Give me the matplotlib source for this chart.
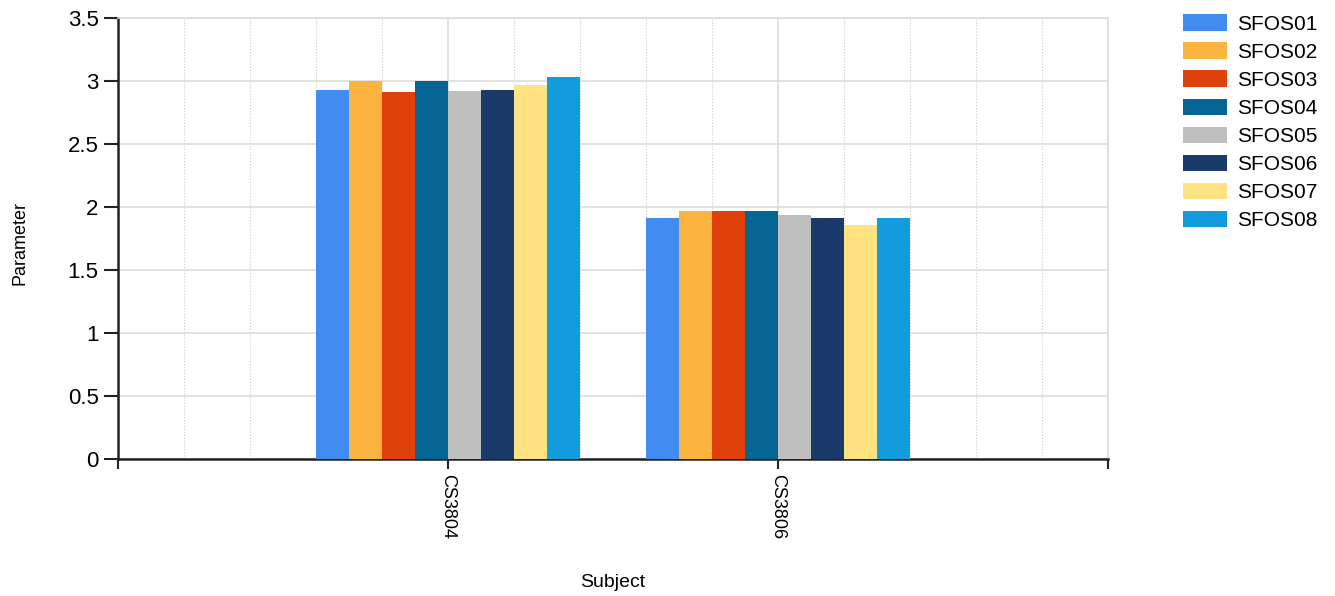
import numpy as np
import matplotlib
matplotlib.use("Agg")
import matplotlib.pyplot as plt
from matplotlib.ticker import MultipleLocator

plt.rcParams['font.family'] = ['Liberation Sans', 'DejaVu Sans']

# data
subjects = ["CS3804", "CS3806"]
series = ["SFOS01", "SFOS02", "SFOS03", "SFOS04", "SFOS05", "SFOS06", "SFOS07", "SFOS08"]
values_cs3804 = [2.93, 3.00, 2.91, 3.00, 2.92, 2.93, 2.97, 3.03]
values_cs3806 = [1.91, 1.97, 1.97, 1.97, 1.94, 1.91, 1.86, 1.91]
colors = ["#418CF0", "#FCB441", "#E0400A", "#056492", "#BFBFBF", "#1A3B69", "#FFE382", "#129CDD"]

vals = np.array([values_cs3804, values_cs3806])  # shape (subjects, series)

fig = plt.figure(figsize=(13.35, 5.96), dpi=100)
W, H = 1335, 596
ax = fig.add_axes([118 / W, 1 - 459 / H, (1108 - 118) / W, (459 - 18) / H])

x = np.arange(1, len(subjects) + 1)
n = len(series)
bw = 0.8 / n
for i, name in enumerate(series):
    ax.bar(x - 0.4 + bw / 2 + i * bw, vals[:, i], width=bw, color=colors[i],
           label=name, zorder=3, linewidth=0)

ax.set_xlim(0, len(subjects) + 1)
ax.set_ylim(0, 3.5)
ax.set_xticks([0] + list(x) + [len(subjects) + 1])
ax.set_xticklabels([""] + subjects + [""], rotation=-90, fontsize=13)
ax.xaxis.set_minor_locator(MultipleLocator(0.2))
ax.set_yticks(np.arange(0, 3.51, 0.5))
ax.set_yticklabels(["0", "0.5", "1", "1.5", "2", "2.5", "3", "3.5"], fontsize=16)

ax.grid(axis='y', which='major', color='#DDDDDD', linewidth=1.2, zorder=0)
ax.grid(axis='x', which='major', color='#DDDDDD', linewidth=1.2, zorder=0)
ax.grid(axis='x', which='minor', color='#CCCCCC', linewidth=0.8, linestyle=':', zorder=0)

for s in ['top', 'right']:
    ax.spines[s].set_color('#DDDDDD')
    ax.spines[s].set_linewidth(1.2)
for s in ['left', 'bottom']:
    ax.spines[s].set_color('#222222')
    ax.spines[s].set_linewidth(1.8)

ax.tick_params(axis='y', which='major', length=10, width=1.5, color='#222222', pad=4)
ax.tick_params(axis='x', which='major', length=7, width=1.5, color='#222222', pad=4)
ax.tick_params(axis='x', which='minor', length=0)

ax.set_xlabel("Subject", fontsize=14)
ax.set_ylabel("Parameter", fontsize=13)
ax.xaxis.set_label_coords(0.5, -0.26)
ax.yaxis.set_label_coords(-0.09, 0.49)

fig.legend(loc='upper left', bbox_to_anchor=(1175 / W, 1 - 6 / H), frameon=False,
           fontsize=15, handlelength=2.1, handleheight=0.82, handletextpad=0.5,
           labelspacing=0.42, borderaxespad=0)

fig.savefig("out.png", dpi=100)
